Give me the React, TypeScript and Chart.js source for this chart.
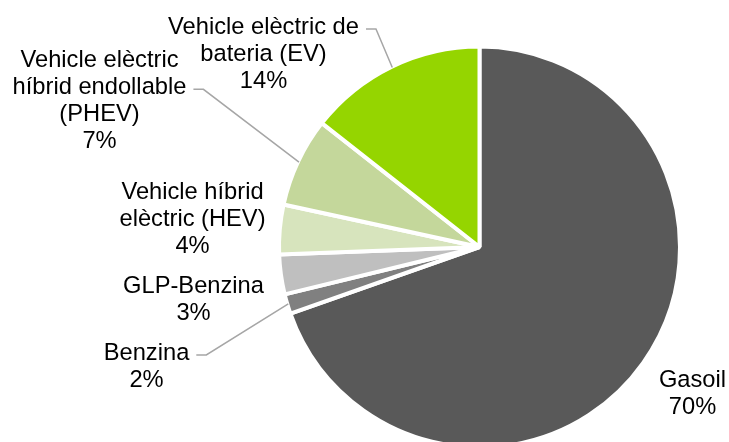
import React, { useEffect, useRef } from "react";
import { Chart, registerables } from "chart.js";

Chart.register(...registerables);

const categories: string[][] = [
  ["Gasoil"],
  ["Benzina"],
  ["GLP-Benzina"],
  ["Vehicle híbrid", "elèctric (HEV)"],
  ["Vehicle elèctric", "híbrid endollable", "(PHEV)"],
  ["Vehicle elèctric de", "bateria (EV)"],
];
const values: number[] = [69.6, 1.6, 3.2, 4.0, 7.2, 14.4];
const colors: string[] = ["#595959", "#808080", "#bfbfbf", "#d7e4bd", "#c4d79b", "#95d500"];

// label block placement relative to pie centre (text layout, not data)
const labelOffsets: { dx: number; dy: number; leaderLine: number }[] = [
  { dx: 213, dy: 133, leaderLine: -1 },
  { dx: -333, dy: 106, leaderLine: 0 },
  { dx: -286, dy: 39, leaderLine: -1 },
  { dx: -287, dy: -55, leaderLine: -1 },
  { dx: -380, dy: -187, leaderLine: 1 },
  { dx: -216, dy: -220, leaderLine: 0 },
];

const FONT = '23.7px "Liberation Sans", Arial, sans-serif';
const LINE_H = 27.3;

const labelPlugin = {
  id: "pieLabels",
  afterDraw(chart: any) {
    const ctx = chart.ctx as CanvasRenderingContext2D;
    const meta = chart.getDatasetMeta(0);
    const data = chart.data.datasets[0].data as number[];
    const total = data.reduce((a, b) => a + b, 0);
    ctx.save();
    ctx.font = FONT;
    ctx.fillStyle = "#000000";
    ctx.textAlign = "center";
    ctx.textBaseline = "middle";
    meta.data.forEach((arc: any, i: number) => {
      const p = arc.getProps(["x", "y", "startAngle", "endAngle", "outerRadius"], true);
      const off = labelOffsets[i];
      const cx = p.x + off.dx;
      const cy = p.y + off.dy;
      const lines = [...categories[i], Math.round((data[i] / total) * 100) + "%"];
      lines.forEach((t, k) => ctx.fillText(t, cx, cy + k * LINE_H));
      if (off.leaderLine >= 0) {
        const w = ctx.measureText(lines[off.leaderLine]).width;
        const mid = (p.startAngle + p.endAngle) / 2;
        const ex = p.x + Math.cos(mid) * (p.outerRadius - 1);
        const ey = p.y + Math.sin(mid) * (p.outerRadius - 1);
        const sx = cx + w / 2 + 7;
        const sy = cy + off.leaderLine * LINE_H + 2;
        ctx.beginPath();
        ctx.strokeStyle = "#a6a6a6";
        ctx.lineWidth = 1.5;
        ctx.moveTo(sx, sy);
        ctx.lineTo(sx + 10, sy);
        ctx.lineTo(ex, ey);
        ctx.stroke();
      }
    });
    ctx.restore();
  },
};

export default function App() {
  const ref = useRef<HTMLCanvasElement>(null);
  useEffect(() => {
    document.body.style.margin = "0";
    document.body.style.overflow = "hidden";
    const chart = new Chart(ref.current as HTMLCanvasElement, {
      type: "pie",
      data: {
        labels: categories.map((c) => c.join(" ")),
        datasets: [
          {
            data: values,
            backgroundColor: colors,
            borderColor: "#ffffff",
            borderWidth: 4,
          },
        ],
      },
      options: {
        responsive: false,
        animation: false,
        layout: { padding: { left: 277, right: 47, top: 44.5, bottom: 10.5 } },
        plugins: {
          legend: { display: false },
          tooltip: { enabled: false },
        },
      },
      plugins: [labelPlugin],
    });
    return () => chart.destroy();
  }, []);
  return (
    <div style={{ width: 729, height: 442, overflow: "hidden" }}>
      <canvas ref={ref} width={729} height={460} style={{ display: "block" }} />
    </div>
  );
}
